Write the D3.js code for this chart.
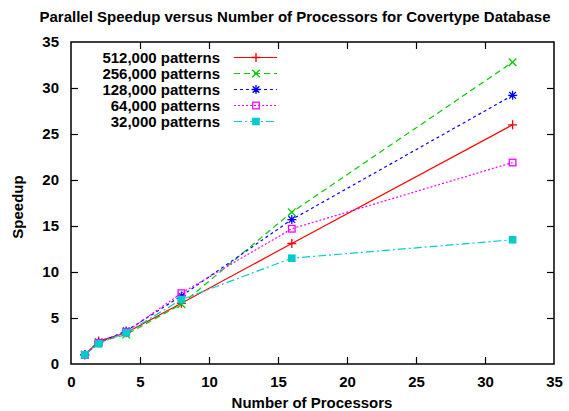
<!DOCTYPE html>
<html><head><meta charset="utf-8">
<script src="https://cdn.jsdelivr.net/npm/d3@7"></script>
<style>
body{margin:0;background:#fff;}
svg text{font-family:"Liberation Sans",Arial,Helvetica,sans-serif;font-weight:bold;fill:#000;}
</style></head>
<body><svg id="c" width="569" height="411"></svg>
<script>
const processors = [1, 2, 4, 8, 16, 32];
const seriesNames = ["512,000 patterns","256,000 patterns","128,000 patterns","64,000 patterns","32,000 patterns"];
const speedup512 = [1.0, 2.5, 3.4, 6.6, 13.1, 26.0];
const speedup256 = [1.0, 2.4, 3.2, 6.5, 16.5, 32.8];
const speedup128 = [1.0, 2.3, 3.6, 7.4, 15.7, 29.2];
const speedup64  = [1.0, 2.3, 3.5, 7.7, 14.7, 21.9];
const speedup32  = [1.0, 2.2, 3.4, 7.0, 11.5, 13.5];
const xTicks = [0,5,10,15,20,25,30,35];
const yTicks = [0,5,10,15,20,25,30,35];

const colors = ["#ff0000","#00cc00","#0000ff","#ff00ff","#00cccc"];
const dashes = [null,"6,4","3,3","2,2","8,3,2,3"];
const markers = ["plus","cross","star","box","fbox"];
const allValues = [speedup512,speedup256,speedup128,speedup64,speedup32];

const svg = d3.select("#c");
const L=71,R=554,T=42,B=364;
const x = d3.scaleLinear().domain([0,35]).range([L,R]);
const y = d3.scaleLinear().domain([0,35]).range([B,T]);

// title
svg.append("text").attr("x",295).attr("y",22).attr("text-anchor","middle")
  .style("font-size","15px").text("Parallel Speedup versus Number of Processors for Covertype Database");

const tl=7;
// axes with inward ticks
const gx = svg.append("g").attr("transform",`translate(0,${B})`)
  .call(d3.axisBottom(x).tickValues(xTicks).tickSizeInner(-tl).tickSizeOuter(0).tickPadding(12));
const gxt = svg.append("g").attr("transform",`translate(0,${T})`)
  .call(d3.axisTop(x).tickValues(xTicks).tickSizeInner(-tl).tickSizeOuter(0).tickFormat(""));
const gy = svg.append("g").attr("transform",`translate(${L},0)`)
  .call(d3.axisLeft(y).tickValues(yTicks).tickSizeInner(-tl).tickSizeOuter(0).tickPadding(12));
const gyr = svg.append("g").attr("transform",`translate(${R},0)`)
  .call(d3.axisRight(y).tickValues(yTicks).tickSizeInner(-tl).tickSizeOuter(0).tickFormat(""));
[gx,gxt,gy,gyr].forEach(g=>{
  g.select(".domain").remove();
  g.selectAll("line").attr("stroke","#000").attr("stroke-width",1.2);
  g.selectAll("text").style("font-size","15px").attr("fill","#000")
   .style("font-family","Liberation Sans, Arial, sans-serif").style("font-weight","bold");
});
// remove edge ticks overlapping frame
[gx,gxt].forEach(g=>g.selectAll(".tick").filter(d=>d===0||d===35).select("line").remove());
[gy,gyr].forEach(g=>g.selectAll(".tick").filter(d=>d===0||d===35).select("line").remove());

svg.append("rect").attr("x",L).attr("y",T).attr("width",R-L).attr("height",B-T)
  .attr("fill","none").attr("stroke","#000").attr("stroke-width",1.5);

// axis labels
svg.append("text").attr("x",312).attr("y",408).attr("text-anchor","middle")
  .style("font-size","15px").text("Number of Processors");
svg.append("text").attr("transform","translate(23,207) rotate(-90)").attr("text-anchor","middle")
  .style("font-size","15px").text("Speedup");

function drawMarker(g, type, cx, cy, color){
  const s=4.5;
  if(type==="plus"){
    g.append("path").attr("d",`M${cx-s},${cy}H${cx+s}M${cx},${cy-s}V${cy+s}`).attr("stroke",color).attr("stroke-width",1.3).attr("fill","none");
  } else if(type==="cross"){
    const c=3.8;
    g.append("path").attr("d",`M${cx-c},${cy-c}L${cx+c},${cy+c}M${cx-c},${cy+c}L${cx+c},${cy-c}`).attr("stroke",color).attr("stroke-width",1.3).attr("fill","none");
  } else if(type==="star"){
    const c=3.3;
    g.append("path").attr("d",`M${cx-s},${cy}H${cx+s}M${cx},${cy-s}V${cy+s}M${cx-c},${cy-c}L${cx+c},${cy+c}M${cx-c},${cy+c}L${cx+c},${cy-c}`).attr("stroke",color).attr("stroke-width",1.3).attr("fill","none");
  } else if(type==="box"){
    g.append("rect").attr("x",cx-3.3).attr("y",cy-3.3).attr("width",6.6).attr("height",6.6).attr("stroke",color).attr("stroke-width",1.3).attr("fill","none");
  } else {
    g.append("rect").attr("x",cx-3.8).attr("y",cy-3.8).attr("width",7.6).attr("height",7.6).attr("fill",color);
  }
}

const line = d3.line().x((d,i)=>x(processors[i])).y(d=>y(d));
allValues.forEach((vals,k)=>{
  const g = svg.append("g");
  g.append("path").datum(vals).attr("d",line).attr("fill","none")
    .attr("stroke",colors[k]).attr("stroke-width",1.2)
    .attr("stroke-dasharray",dashes[k]);
  vals.forEach((v,i)=>drawMarker(g,markers[k],x(processors[i]),y(v),colors[k]));
});

// legend
seriesNames.forEach((name,k)=>{
  const yy = 57.5 + 16*k;
  svg.append("text").attr("x",220).attr("y",yy+5).attr("text-anchor","end")
    .style("font-size","15px").text(name);
  const g = svg.append("g");
  g.append("line").attr("x1",234).attr("x2",277).attr("y1",yy).attr("y2",yy)
    .attr("stroke",colors[k]).attr("stroke-width",1.2).attr("stroke-dasharray",dashes[k]);
  drawMarker(g,markers[k],256,yy,colors[k]);
});
</script></body></html>
